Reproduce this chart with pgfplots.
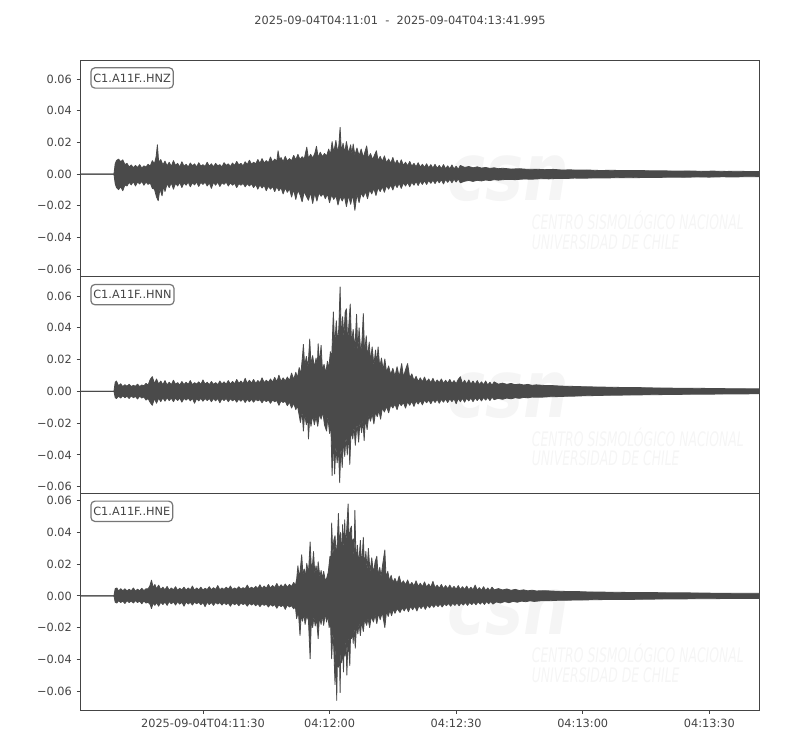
\documentclass[border=0pt]{standalone}
\usepackage{fontspec}
\setmainfont{DejaVu Sans}
\usepackage{pgfplots}
\pgfplotsset{compat=1.18}
\usepackage{pgfplotstable}
\usepgfplotslibrary{fillbetween}

\definecolor{trace}{RGB}{74,74,74}
\definecolor{txt}{RGB}{68,68,68}
\definecolor{frame}{RGB}{68,68,68}
\definecolor{boxline}{RGB}{118,118,118}
\definecolor{wmark}{RGB}{245,245,245}

% upper and lower envelopes of each component, seconds after 04:11:01
\pgfplotstableread[row sep=\\]{t v\\0 0\\7.9 0\\8.2 0.0065\\8.5 0.0085\\9 0.0095\\9.5 0.0078\\10 0.009\\10.5 0.006\\11 0.0068\\11.5 0.0045\\12 0.0058\\12.5 0.004\\13 0.0055\\13.5 0.0042\\14 0.006\\14.5 0.0038\\15 0.0052\\15.5 0.0045\\16 0.0062\\16.5 0.005\\17 0.0085\\17.5 0.0065\\17.9 0.011\\18.2 0.0185\\18.5 0.0075\\19 0.0092\\19.5 0.0058\\20 0.0082\\20.5 0.0052\\21 0.0075\\21.5 0.0048\\22 0.0085\\22.5 0.0055\\23 0.0068\\23.5 0.0045\\24 0.0078\\24.5 0.005\\25 0.0062\\25.5 0.0045\\26 0.007\\26.5 0.0052\\27 0.0065\\27.5 0.0045\\28 0.0072\\28.5 0.005\\29 0.006\\29.5 0.0048\\30 0.0075\\30.5 0.005\\31 0.0065\\31.5 0.0046\\32 0.0068\\32.5 0.0052\\33 0.006\\33.5 0.0045\\34 0.0072\\34.5 0.0055\\35 0.0065\\35.5 0.0048\\36 0.007\\36.5 0.0055\\37 0.008\\37.5 0.0058\\38 0.0068\\38.5 0.0052\\39 0.0078\\39.5 0.006\\40 0.0088\\40.5 0.0062\\41 0.0075\\41.5 0.0065\\42 0.0092\\42.5 0.0068\\43 0.0098\\43.5 0.007\\44 0.0085\\44.5 0.0072\\45 0.0108\\45.5 0.0075\\46 0.0095\\46.5 0.008\\46.8 0.0147\\47.2 0.0085\\47.5 0.0105\\48 0.0078\\48.5 0.0112\\49 0.0082\\49.5 0.0098\\50 0.0085\\50.5 0.0118\\51 0.009\\51.5 0.0125\\52 0.0092\\52.5 0.011\\53 0.0095\\53.6 0.017\\54 0.0098\\54.5 0.0125\\55 0.0102\\55.5 0.013\\55.9 0.0175\\56.3 0.0105\\56.8 0.0138\\57.3 0.011\\57.8 0.013\\58.3 0.0115\\58.8 0.0158\\59.2 0.012\\59.6 0.0205\\60 0.0135\\60.5 0.0212\\60.9 0.0138\\61.2 0.018\\61.5 0.0295\\61.8 0.014\\62.2 0.0195\\62.6 0.0135\\63 0.0205\\63.5 0.013\\64 0.0185\\64.3 0.0125\\64.6 0.019\\65 0.012\\65.5 0.0165\\66 0.0115\\66.5 0.0158\\67 0.0105\\67.8 0.0178\\68.2 0.0098\\68.7 0.013\\69.2 0.0092\\70.1 0.0147\\70.5 0.0085\\71 0.0112\\71.5 0.008\\72 0.0115\\72.5 0.0072\\73 0.0095\\73.5 0.0068\\74 0.0105\\74.5 0.0062\\75 0.0088\\75.5 0.0058\\76 0.009\\76.5 0.0055\\77 0.0075\\77.5 0.0052\\78 0.008\\78.5 0.005\\79 0.0068\\79.5 0.0046\\80 0.0072\\80.5 0.0044\\81 0.0062\\81.5 0.0042\\82 0.0065\\82.5 0.004\\83 0.006\\83.5 0.0038\\84 0.0062\\84.5 0.0036\\85 0.0055\\85.5 0.0035\\86 0.006\\86.5 0.0034\\87 0.0052\\87.5 0.0033\\88 0.0058\\88.5 0.0032\\89 0.005\\89.5 0.003\\90 0.0055\\91 0.0042\\92 0.0048\\93 0.004\\94 0.0046\\95 0.0038\\96 0.0042\\97 0.0036\\98 0.004\\99 0.0034\\100 0.0037\\102 0.0032\\104 0.0034\\106 0.003\\108 0.0031\\110 0.0028\\112 0.003\\114 0.0026\\116 0.0027\\118 0.0025\\120 0.0026\\123 0.0023\\126 0.0024\\129 0.0022\\132 0.0023\\135 0.0021\\138 0.0021\\141 0.0019\\144 0.002\\147 0.0018\\150 0.0019\\153 0.0017\\156 0.0018\\159 0.0016\\161 0.0017\\}\hnzup
\pgfplotstableread[row sep=\\]{t v\\0 0\\7.9 0\\8.2 -0.006\\8.5 -0.0085\\9 -0.0098\\9.5 -0.008\\10 -0.0105\\10.5 -0.0068\\11 -0.0075\\11.5 -0.0052\\12 -0.0068\\12.5 -0.0048\\13 -0.0075\\13.5 -0.005\\14 -0.0062\\14.5 -0.0045\\15 -0.007\\15.5 -0.005\\16 -0.0065\\16.5 -0.0055\\17 -0.009\\17.5 -0.0095\\18 -0.0145\\18.4 -0.0168\\18.8 -0.0092\\19.3 -0.0137\\19.7 -0.0075\\20 -0.011\\20.5 -0.006\\21 -0.0085\\21.5 -0.0055\\22 -0.0095\\22.5 -0.0058\\23 -0.0075\\23.5 -0.0052\\24 -0.0085\\24.5 -0.0055\\25 -0.007\\25.5 -0.005\\26 -0.008\\26.5 -0.0055\\27 -0.0068\\27.5 -0.005\\28 -0.0078\\28.5 -0.0052\\29 -0.0065\\29.5 -0.005\\30 -0.0075\\30.5 -0.0055\\31 -0.009\\31.5 -0.0052\\32 -0.007\\32.5 -0.005\\33 -0.0078\\33.5 -0.0055\\34 -0.0065\\34.5 -0.005\\35 -0.0075\\35.5 -0.0055\\36 -0.007\\36.5 -0.0058\\37 -0.0085\\37.5 -0.006\\38 -0.007\\38.5 -0.0058\\39 -0.008\\39.5 -0.006\\40 -0.0075\\40.5 -0.0062\\41 -0.0085\\41.5 -0.0065\\42 -0.0095\\42.5 -0.0068\\43 -0.0088\\43.5 -0.007\\44 -0.0105\\44.5 -0.0075\\45 -0.0095\\45.5 -0.0078\\46 -0.011\\46.5 -0.008\\47 -0.0105\\47.5 -0.0085\\48 -0.0125\\48.5 -0.0088\\49 -0.0115\\49.5 -0.0092\\50 -0.0145\\50.5 -0.0098\\51 -0.016\\51.5 -0.0102\\52 -0.013\\52.5 -0.0175\\53 -0.011\\53.5 -0.014\\54 -0.0165\\54.5 -0.0115\\55 -0.0185\\55.5 -0.012\\56 -0.017\\56.5 -0.0118\\57 -0.014\\57.5 -0.0122\\58 -0.0155\\58.5 -0.0125\\59 -0.018\\59.5 -0.013\\60 -0.016\\60.5 -0.0135\\61 -0.0195\\61.5 -0.014\\62 -0.017\\62.5 -0.0138\\63 -0.0205\\63.5 -0.0135\\64 -0.019\\64.5 -0.013\\65 -0.0228\\65.5 -0.0125\\66 -0.018\\66.5 -0.0118\\67 -0.0145\\67.5 -0.011\\68 -0.0155\\68.5 -0.0098\\69 -0.0125\\69.5 -0.009\\70 -0.0135\\70.5 -0.0085\\71 -0.011\\71.5 -0.008\\72 -0.0115\\72.5 -0.0072\\73 -0.0095\\73.5 -0.0068\\74 -0.01\\74.5 -0.0062\\75 -0.0085\\75.5 -0.0058\\76 -0.009\\76.5 -0.0055\\77 -0.0075\\77.5 -0.0052\\78 -0.008\\78.5 -0.005\\79 -0.007\\79.5 -0.0046\\80 -0.0072\\80.5 -0.0044\\81 -0.0065\\81.5 -0.0042\\82 -0.0065\\82.5 -0.004\\83 -0.0058\\83.5 -0.0038\\84 -0.006\\84.5 -0.0036\\85 -0.0055\\85.5 -0.0035\\86 -0.0062\\86.5 -0.0034\\87 -0.0052\\87.5 -0.0033\\88 -0.0055\\88.5 -0.0032\\89 -0.005\\89.5 -0.003\\90 -0.0055\\91 -0.0045\\92 -0.004\\93 -0.0046\\94 -0.0039\\95 -0.0043\\96 -0.0037\\97 -0.0041\\98 -0.0035\\99 -0.0038\\101 -0.0033\\103 -0.0035\\105 -0.0031\\107 -0.0032\\109 -0.0029\\111 -0.003\\113 -0.0027\\115 -0.0028\\117 -0.0025\\119 -0.0026\\122 -0.0024\\125 -0.0024\\128 -0.0022\\131 -0.0023\\134 -0.0021\\137 -0.0021\\140 -0.0019\\143 -0.002\\146 -0.0018\\149 -0.0019\\152 -0.0017\\155 -0.0018\\158 -0.0016\\161 -0.0017\\}\hnzlo

\pgfplotstableread[row sep=\\]{t v\\0 0\\7.9 0\\8.2 0.0057\\8.5 0.0065\\9 0.0035\\9.5 0.0048\\10 0.003\\10.5 0.0042\\11 0.0032\\11.5 0.0045\\12 0.003\\12.5 0.0038\\13 0.0032\\13.5 0.0045\\14 0.003\\14.5 0.004\\15 0.0035\\15.5 0.005\\16 0.004\\16.5 0.0075\\17 0.0093\\17.5 0.0048\\18 0.0078\\18.5 0.0045\\19 0.0065\\19.5 0.0042\\20 0.0068\\20.5 0.004\\21 0.0058\\21.5 0.0042\\22 0.007\\22.5 0.0045\\23 0.0055\\23.5 0.004\\24 0.0062\\24.5 0.0042\\25 0.0058\\25.5 0.0044\\26 0.0068\\26.5 0.0042\\27 0.0055\\27.5 0.0045\\28 0.006\\28.5 0.0044\\29 0.0072\\29.5 0.0045\\30 0.0058\\30.5 0.0042\\31 0.0062\\31.5 0.0044\\32 0.0055\\32.5 0.0042\\33 0.0065\\33.5 0.0046\\34 0.006\\34.5 0.0045\\35 0.0068\\35.5 0.0046\\36 0.0062\\36.5 0.0048\\37 0.0075\\37.5 0.005\\38 0.0065\\38.5 0.0048\\39 0.0082\\39.5 0.005\\40 0.007\\40.5 0.0052\\41 0.0075\\41.5 0.005\\42 0.0068\\42.5 0.0054\\43 0.0085\\43.5 0.0055\\44 0.007\\44.5 0.0056\\45 0.0078\\45.5 0.0058\\46 0.0088\\46.5 0.006\\47 0.0102\\47.5 0.0062\\48 0.0085\\48.5 0.0065\\49 0.009\\49.5 0.0068\\50 0.0115\\50.5 0.0075\\51 0.012\\51.4 0.0085\\51.8 0.015\\52.2 0.011\\52.6 0.0225\\52.8 0.0295\\53.1 0.016\\53.5 0.022\\53.9 0.015\\54.3 0.033\\54.6 0.017\\55 0.0225\\55.4 0.015\\55.8 0.021\\56.1 0.016\\56.3 0.03\\56.6 0.017\\57 0.029\\57.3 0.0135\\57.7 0.017\\58.1 0.0115\\58.5 0.019\\58.8 0.014\\59.2 0.025\\59.5 0.02\\59.9 0.05\\60.2 0.028\\60.6 0.0445\\60.9 0.03\\61.2 0.04\\61.5 0.0657\\61.8 0.032\\62.1 0.047\\62.4 0.034\\62.7 0.05\\63 0.052\\63.3 0.03\\63.6 0.043\\63.9 0.055\\64.2 0.03\\64.6 0.039\\65 0.026\\65.4 0.0485\\65.7 0.025\\66 0.04\\66.4 0.024\\66.7 0.0325\\67 0.049\\67.3 0.024\\67.7 0.035\\68 0.021\\68.4 0.031\\68.7 0.019\\69.1 0.028\\69.5 0.0165\\69.9 0.026\\70.2 0.017\\70.5 0.028\\70.9 0.015\\71.3 0.021\\71.7 0.0135\\72.1 0.0204\\72.5 0.012\\73 0.016\\73.5 0.0105\\74 0.0145\\74.5 0.0095\\75 0.0155\\75.5 0.0092\\76.1 0.0175\\76.5 0.009\\77 0.0135\\77.5 0.0175\\78 0.0085\\78.5 0.011\\79 0.0068\\79.5 0.0095\\80 0.0062\\80.5 0.0085\\81 0.006\\81.5 0.009\\82 0.0058\\82.5 0.0078\\83 0.0055\\83.5 0.0082\\84 0.0052\\84.5 0.0072\\85 0.0055\\85.5 0.0078\\86 0.005\\86.5 0.007\\87 0.0052\\87.5 0.0075\\88 0.005\\88.5 0.0068\\89 0.0048\\89.5 0.0075\\90 0.0092\\90.5 0.0048\\91 0.007\\91.5 0.0046\\92 0.0072\\92.5 0.0045\\93 0.0065\\93.5 0.0044\\94 0.0068\\94.5 0.0042\\95 0.006\\95.5 0.0042\\96 0.0065\\96.5 0.004\\97 0.0058\\97.5 0.0038\\98 0.006\\99 0.0045\\100 0.0052\\101 0.0044\\102 0.005\\103 0.0042\\104 0.0046\\105 0.004\\106 0.0044\\107 0.0038\\108 0.0041\\110 0.0037\\112 0.0036\\114 0.0033\\116 0.0032\\118 0.003\\120 0.0029\\123 0.0027\\126 0.0026\\129 0.0024\\132 0.0024\\135 0.0022\\138 0.0021\\141 0.002\\144 0.002\\147 0.0019\\150 0.0018\\153 0.0017\\156 0.0017\\159 0.0016\\161 0.0016\\}\hnnup
\pgfplotstableread[row sep=\\]{t v\\0 0\\7.9 0\\8.2 -0.004\\8.5 -0.0045\\9 -0.003\\9.5 -0.0042\\10 -0.0028\\10.5 -0.004\\11 -0.003\\11.5 -0.0045\\12 -0.0028\\12.5 -0.004\\13 -0.0032\\13.5 -0.0048\\14 -0.003\\14.5 -0.0042\\15 -0.0035\\15.5 -0.0055\\16 -0.0045\\16.5 -0.007\\17 -0.0088\\17.5 -0.0045\\18 -0.0075\\18.5 -0.0042\\19 -0.0065\\19.5 -0.004\\20 -0.0062\\20.5 -0.004\\21 -0.0058\\21.5 -0.0042\\22 -0.0065\\22.5 -0.0042\\23 -0.0058\\23.5 -0.0042\\24 -0.0068\\24.5 -0.0044\\25 -0.0055\\25.5 -0.0042\\26 -0.006\\26.5 -0.0044\\27 -0.0075\\27.5 -0.0045\\28 -0.006\\28.5 -0.0044\\29 -0.0062\\29.5 -0.0045\\30 -0.0058\\30.5 -0.0044\\31 -0.0065\\31.5 -0.0045\\32 -0.006\\32.5 -0.0044\\33 -0.0072\\33.5 -0.0046\\34 -0.0058\\34.5 -0.0045\\35 -0.0065\\35.5 -0.0046\\36 -0.006\\36.5 -0.0048\\37 -0.0068\\37.5 -0.0048\\38 -0.0062\\38.5 -0.0048\\39 -0.007\\39.5 -0.005\\40 -0.0065\\40.5 -0.005\\41 -0.0068\\41.5 -0.005\\42 -0.006\\42.5 -0.0052\\43 -0.0072\\43.5 -0.0052\\44 -0.0065\\44.5 -0.0054\\45 -0.0075\\45.5 -0.0055\\46 -0.0065\\46.5 -0.0058\\47 -0.0088\\47.5 -0.006\\48 -0.007\\48.5 -0.0062\\49 -0.009\\49.5 -0.0068\\50 -0.0105\\50.5 -0.0075\\51 -0.0115\\51.4 -0.009\\51.8 -0.015\\52.1 -0.0196\\52.5 -0.013\\52.8 -0.025\\53.1 -0.014\\53.5 -0.021\\53.8 -0.015\\54 -0.03\\54.3 -0.016\\54.6 -0.022\\55 -0.015\\55.4 -0.021\\55.8 -0.016\\56.2 -0.022\\56.6 -0.014\\57 -0.0175\\57.4 -0.013\\57.8 -0.021\\58.3 -0.025\\58.6 -0.016\\59 -0.0265\\59.3 -0.02\\59.6 -0.053\\59.9 -0.03\\60.2 -0.052\\60.5 -0.034\\60.8 -0.045\\61.1 -0.035\\61.4 -0.0575\\61.7 -0.034\\62 -0.048\\62.3 -0.03\\62.6 -0.041\\62.9 -0.028\\63.2 -0.04\\63.5 -0.026\\63.8 -0.046\\64.1 -0.024\\64.5 -0.03\\64.8 -0.022\\65.1 -0.034\\65.5 -0.02\\65.9 -0.032\\66.2 -0.019\\66.6 -0.026\\66.9 -0.018\\67.2 -0.031\\67.5 -0.017\\67.9 -0.024\\68.3 -0.015\\68.7 -0.0188\\69.1 -0.014\\69.5 -0.0205\\69.9 -0.013\\70.3 -0.016\\70.7 -0.012\\71.1 -0.0175\\71.5 -0.0105\\72 -0.013\\72.5 -0.0095\\73 -0.0135\\73.5 -0.0085\\74 -0.0105\\74.5 -0.008\\75 -0.0115\\75.5 -0.0072\\76 -0.009\\76.5 -0.007\\77 -0.0105\\77.5 -0.0065\\78 -0.0088\\78.5 -0.0062\\79 -0.0095\\79.5 -0.006\\80 -0.008\\80.5 -0.0058\\81 -0.0085\\81.5 -0.0055\\82 -0.0072\\82.5 -0.0054\\83 -0.0078\\83.5 -0.0052\\84 -0.007\\84.5 -0.005\\85 -0.0075\\85.5 -0.005\\86 -0.0068\\86.5 -0.0048\\87 -0.007\\87.5 -0.0047\\88 -0.0065\\88.5 -0.0046\\89 -0.0078\\89.5 -0.0045\\90 -0.0065\\90.5 -0.0044\\91 -0.0068\\91.5 -0.0043\\92 -0.006\\92.5 -0.0042\\93 -0.0065\\93.5 -0.0041\\94 -0.0058\\94.5 -0.004\\95 -0.006\\95.5 -0.0039\\96 -0.0055\\96.5 -0.0038\\97 -0.0058\\97.5 -0.0036\\98 -0.0052\\99 -0.0044\\100 -0.005\\101 -0.0042\\102 -0.0047\\103 -0.004\\104 -0.0044\\105 -0.0038\\106 -0.0041\\107 -0.0036\\109 -0.0037\\111 -0.0034\\113 -0.0033\\115 -0.0031\\117 -0.003\\119 -0.0028\\121 -0.0027\\124 -0.0025\\127 -0.0024\\130 -0.0023\\133 -0.0022\\136 -0.0021\\139 -0.002\\142 -0.0019\\145 -0.0018\\148 -0.0018\\151 -0.0017\\154 -0.0016\\157 -0.0016\\161 -0.0015\\}\hnnlo

\pgfplotstableread[row sep=\\]{t v\\0 0\\7.9 0\\8.2 0.0046\\8.6 0.005\\9 0.003\\9.5 0.0045\\10 0.0032\\10.5 0.0045\\11 0.003\\11.5 0.0042\\12 0.0032\\12.5 0.005\\13 0.003\\13.5 0.0042\\14 0.0032\\14.5 0.0048\\15 0.0033\\15.5 0.0045\\16 0.0045\\16.4 0.0062\\16.8 0.0099\\17.2 0.0052\\17.6 0.0072\\18 0.0045\\18.5 0.0068\\19 0.004\\19.5 0.0055\\20 0.0038\\20.5 0.006\\21 0.0036\\21.5 0.005\\22 0.0038\\22.5 0.0058\\23 0.0035\\23.5 0.0048\\24 0.0038\\24.5 0.0055\\25 0.0036\\25.5 0.005\\26 0.0038\\26.5 0.0062\\27 0.0036\\27.5 0.005\\28 0.0038\\28.5 0.0055\\29 0.0036\\29.5 0.0048\\30 0.004\\30.5 0.0058\\31 0.0038\\31.5 0.0052\\32 0.004\\32.5 0.0065\\33 0.0038\\33.5 0.005\\34 0.004\\34.5 0.0055\\35 0.0042\\35.5 0.0062\\36 0.004\\36.5 0.005\\37 0.0042\\37.5 0.0058\\38 0.0042\\38.5 0.0052\\39 0.0045\\39.5 0.0068\\40 0.0044\\40.5 0.0055\\41 0.0045\\41.5 0.006\\42 0.0047\\42.5 0.007\\43 0.0046\\43.5 0.0062\\44 0.0048\\44.5 0.0072\\45 0.005\\45.5 0.0065\\46 0.0052\\46.5 0.0078\\47 0.0052\\47.5 0.007\\48 0.0055\\48.5 0.0075\\49 0.0055\\49.5 0.0072\\50 0.006\\50.5 0.0085\\50.9 0.0065\\51.2 0.0105\\51.5 0.019\\51.8 0.011\\52.1 0.0175\\52.4 0.026\\52.7 0.013\\53 0.017\\53.3 0.012\\53.6 0.0205\\54 0.014\\54.4 0.034\\54.7 0.016\\55 0.021\\55.2 0.028\\55.5 0.014\\55.8 0.019\\56.1 0.013\\56.3 0.0215\\56.7 0.012\\57 0.016\\57.3 0.011\\57.6 0.0155\\58 0.0095\\58.3 0.011\\58.7 0.015\\59.1 0.025\\59.3 0.017\\59.5 0.046\\59.8 0.024\\60 0.035\\60.3 0.038\\60.6 0.025\\60.8 0.032\\61.1 0.052\\61.4 0.028\\61.6 0.04\\61.9 0.026\\62.1 0.045\\62.4 0.03\\62.6 0.048\\62.8 0.028\\63 0.039\\63.4 0.058\\63.7 0.027\\63.9 0.042\\64.2 0.044\\64.4 0.024\\64.6 0.036\\64.8 0.022\\65 0.054\\65.3 0.02\\65.6 0.032\\65.9 0.019\\66.3 0.035\\66.6 0.018\\67 0.037\\67.3 0.017\\67.6 0.028\\67.9 0.016\\68.2 0.03\\68.6 0.015\\69 0.024\\69.4 0.014\\69.8 0.0215\\70.2 0.025\\70.5 0.013\\70.9 0.018\\71.2 0.012\\71.6 0.02\\72.1 0.029\\72.4 0.011\\72.8 0.0155\\73.2 0.0095\\73.6 0.013\\74 0.0085\\74.5 0.011\\75 0.0078\\75.5 0.0125\\76 0.0075\\76.5 0.0095\\77 0.007\\77.5 0.01\\78 0.0065\\78.5 0.0085\\79 0.0062\\79.5 0.0095\\80 0.006\\80.5 0.008\\81 0.0058\\81.5 0.0088\\82 0.0055\\82.5 0.0075\\83 0.0054\\83.5 0.0092\\84 0.005\\84.5 0.0068\\85 0.0048\\85.5 0.0072\\86 0.0046\\86.5 0.0065\\87 0.0045\\87.5 0.0068\\88 0.0044\\88.5 0.006\\89 0.0042\\89.5 0.0065\\90 0.004\\90.5 0.0058\\91 0.004\\91.5 0.0062\\92 0.0038\\92.5 0.0055\\93 0.0038\\93.5 0.0068\\94 0.0036\\94.5 0.0052\\95 0.0035\\95.5 0.0058\\96 0.0034\\96.5 0.005\\97 0.0033\\97.5 0.0055\\98 0.0038\\99 0.0046\\100 0.0037\\101 0.0044\\102 0.0035\\103 0.0041\\104 0.0034\\105 0.0038\\106 0.0032\\107 0.0036\\108 0.0031\\110 0.0033\\112 0.003\\114 0.0029\\116 0.0027\\118 0.0027\\120 0.0025\\123 0.0024\\126 0.0023\\129 0.0022\\132 0.0021\\135 0.0021\\138 0.002\\141 0.0019\\144 0.0019\\147 0.0018\\150 0.0017\\153 0.0017\\156 0.0016\\159 0.0016\\161 0.0016\\}\hneup
\pgfplotstableread[row sep=\\]{t v\\0 0\\7.9 0\\8.2 -0.004\\8.6 -0.0045\\9 -0.003\\9.5 -0.0042\\10 -0.0033\\10.5 -0.0048\\11 -0.003\\11.5 -0.0042\\12 -0.0032\\12.5 -0.0045\\13 -0.003\\13.5 -0.0042\\14 -0.0033\\14.5 -0.005\\15 -0.0032\\15.5 -0.0045\\16 -0.004\\16.5 -0.0055\\16.8 -0.008\\17.2 -0.0045\\17.6 -0.006\\18 -0.0042\\18.5 -0.0065\\19 -0.004\\19.5 -0.0055\\20 -0.0038\\20.5 -0.006\\21 -0.0036\\21.5 -0.005\\22 -0.0038\\22.5 -0.0058\\23 -0.0037\\23.5 -0.0052\\24 -0.004\\24.5 -0.0065\\25 -0.0038\\25.5 -0.0052\\26 -0.004\\26.5 -0.0058\\27 -0.0038\\27.5 -0.005\\28 -0.004\\28.5 -0.0056\\29 -0.0042\\29.5 -0.0068\\30 -0.004\\30.5 -0.0055\\31 -0.0042\\31.5 -0.006\\32 -0.004\\32.5 -0.0052\\33 -0.0042\\33.5 -0.0058\\34 -0.0042\\34.5 -0.0055\\35 -0.0045\\35.5 -0.0065\\36 -0.0044\\36.5 -0.0056\\37 -0.0045\\37.5 -0.0062\\38 -0.0045\\38.5 -0.0055\\39 -0.0047\\39.5 -0.0065\\40 -0.0046\\40.5 -0.0058\\41 -0.0048\\41.5 -0.0062\\42 -0.0049\\42.5 -0.0068\\43 -0.005\\43.5 -0.006\\44 -0.0052\\44.5 -0.007\\45 -0.0053\\45.5 -0.0065\\46 -0.0055\\46.5 -0.0078\\47 -0.0056\\47.5 -0.0068\\48 -0.0058\\48.5 -0.0085\\49 -0.0058\\49.5 -0.007\\50 -0.0062\\50.5 -0.0082\\50.9 -0.0068\\51.2 -0.0143\\51.6 -0.0095\\52 -0.025\\52.3 -0.011\\52.6 -0.016\\52.9 -0.011\\53.2 -0.018\\53.6 -0.0125\\54 -0.0155\\54.4 -0.0397\\54.7 -0.014\\55 -0.02\\55.3 -0.013\\55.6 -0.019\\55.9 -0.014\\56.3 -0.027\\56.6 -0.013\\57 -0.018\\57.3 -0.012\\57.6 -0.0186\\58 -0.011\\58.3 -0.0165\\58.6 -0.012\\58.9 -0.02\\59.2 -0.015\\59.5 -0.0397\\59.8 -0.022\\60 -0.033\\60.3 -0.056\\60.5 -0.03\\60.7 -0.066\\60.9 -0.032\\61.1 -0.045\\61.3 -0.03\\61.5 -0.061\\61.7 -0.03\\61.9 -0.042\\62.1 -0.028\\62.3 -0.048\\62.5 -0.027\\62.7 -0.038\\62.9 -0.026\\63.1 -0.05\\63.4 -0.025\\63.6 -0.036\\63.8 -0.044\\64 -0.022\\64.2 -0.027\\64.4 -0.02\\64.6 -0.03\\64.8 -0.019\\65.1 -0.033\\65.4 -0.018\\65.7 -0.024\\66 -0.017\\66.3 -0.025\\66.6 -0.016\\67 -0.0225\\67.3 -0.015\\67.8 -0.0186\\68.1 -0.014\\68.5 -0.02\\68.9 -0.013\\69.4 -0.0165\\69.8 -0.012\\70.2 -0.0175\\70.6 -0.011\\71 -0.015\\71.5 -0.0105\\72.1 -0.02\\72.5 -0.0095\\72.9 -0.013\\73.3 -0.009\\73.7 -0.0125\\74.1 -0.0085\\74.5 -0.011\\75 -0.008\\75.7 -0.0105\\76.2 -0.0075\\76.7 -0.0095\\77.2 -0.007\\77.7 -0.01\\78.2 -0.0066\\78.7 -0.0088\\79.2 -0.0064\\79.7 -0.0095\\80.2 -0.0062\\80.7 -0.008\\81.2 -0.006\\81.7 -0.0085\\82.2 -0.0058\\82.7 -0.0075\\83.2 -0.0055\\83.7 -0.0072\\84.2 -0.0053\\84.7 -0.0068\\85.2 -0.0052\\85.7 -0.007\\86.2 -0.005\\86.7 -0.0062\\87.2 -0.0048\\87.7 -0.0065\\88.2 -0.0046\\88.7 -0.006\\89.2 -0.0045\\89.7 -0.0062\\90.2 -0.0044\\90.7 -0.0058\\91.2 -0.0042\\91.7 -0.006\\92.2 -0.0041\\92.7 -0.0055\\93.2 -0.004\\93.7 -0.0056\\94.2 -0.0038\\94.7 -0.0052\\95.2 -0.0037\\95.7 -0.0054\\96.2 -0.0036\\96.7 -0.005\\97.2 -0.0035\\97.7 -0.0052\\98.5 -0.0038\\99.5 -0.0045\\100.5 -0.0036\\101.5 -0.0043\\102.5 -0.0035\\103.5 -0.004\\104.5 -0.0033\\105.5 -0.0037\\106.5 -0.0031\\107.5 -0.0035\\109 -0.0031\\111 -0.0031\\113 -0.0028\\115 -0.0028\\117 -0.0026\\119 -0.0026\\122 -0.0024\\125 -0.0023\\128 -0.0022\\131 -0.0022\\134 -0.0021\\137 -0.002\\140 -0.0019\\143 -0.0019\\146 -0.0018\\149 -0.0018\\152 -0.0017\\155 -0.0017\\158 -0.0016\\161 -0.0016\\}\hnelo

\pgfplotsset{
  seis/.style={
    set layers,
    scale only axis,
    width=509.5pt, height=162.5pt,
    xmin=0, xmax=160.995,
    axis line style={frame, line width=0.7pt},
    tick style={frame, line width=0.7pt},
    major tick length=3pt,
    tick align=outside,
    xtick pos=bottom, ytick pos=left,
    scaled y ticks=false,
    ytick={-0.06,-0.04,-0.02,0,0.02,0.04,0.06},
    yticklabels={−0.06,−0.04,−0.02,0.00,0.02,0.04,0.06},
    ticklabel style={font=\fontsize{8.5}{10}\selectfont, text=txt},
    /pgf/number format/assume math mode=true,
    clip=true,
  },
  env/.style={draw=trace, line width=0.6pt, line join=round},
}
\tikzset{
  lab/.style={anchor=north west, draw=boxline, rounded corners=3pt, line width=0.9pt,
    fill=white, text=txt, font=\fontsize{8.5}{10}\selectfont,
    inner xsep=1.8pt, inner ysep=4.4pt},
  wm/.style={text=wmark, font=\fontsize{15}{15}\selectfont\itshape, anchor=west, xscale=0.62},
  wmbig/.style={text=wmark, font=\fontsize{60}{60}\selectfont\bfseries\itshape, xscale=0.8},
}
% faint CSN watermark, under the traces
\newcommand\csnmark{%
  \begin{pgfonlayer}{axis background}
  \node[wmbig] at (rel axis cs:0.63,0.45) {csn};
  \node[wm] at (rel axis cs:0.66,0.26) {CENTRO SISMOLÓGICO NACIONAL};
  \node[wm] at (rel axis cs:0.66,0.16) {UNIVERSIDAD DE CHILE};
  \end{pgfonlayer}}

\begin{document}
\begin{tikzpicture}
\node[text=txt, font=\fontsize{8.5}{10}\selectfont] at (300pt,-15pt)
  {2025-09-04T04:11:01\ \ -\ \ 2025-09-04T04:13:41.995};

% HNZ
\begin{axis}[seis, at={(60.45pt,-45pt)}, anchor=north west,
  ymin=-0.0647, ymax=0.072, xtick=\empty]
  \csnmark
  \addplot[name path=zu, env] table {\hnzup};
  \addplot[name path=zl, env] table {\hnzlo};
  \addplot[trace] fill between[of=zu and zl];
  \node[lab] at ([xshift=7.3pt,yshift=-5.4pt]rel axis cs:0,1) {C1.A11F..HNZ};
\end{axis}

% HNN
\begin{axis}[seis, at={(60.45pt,-207.5pt)}, anchor=north west,
  ymin=-0.0642, ymax=0.0722, xtick=\empty]
  \csnmark
  \addplot[name path=nu, env] table {\hnnup};
  \addplot[name path=nl, env] table {\hnnlo};
  \addplot[trace] fill between[of=nu and nl];
  \node[lab] at ([xshift=7.3pt,yshift=-5.4pt]rel axis cs:0,1) {C1.A11F..HNN};
\end{axis}

% HNE
\begin{axis}[seis, at={(60.45pt,-370pt)}, anchor=north west,
  ymin=-0.072, ymax=0.0647,
  xtick={29,59,89,119,149},
  xticklabels={2025-09-04T04:11:30,04:12:00,04:12:30,04:13:00,04:13:30}]
  \csnmark
  \addplot[name path=eu, env] table {\hneup};
  \addplot[name path=el, env] table {\hnelo};
  \addplot[trace] fill between[of=eu and el];
  \node[lab] at ([xshift=7.3pt,yshift=-5.4pt]rel axis cs:0,1) {C1.A11F..HNE};
\end{axis}

\pgfresetboundingbox
\path[use as bounding box] (0,0) rectangle (600pt,-562.5pt);
\end{tikzpicture}
\end{document}
